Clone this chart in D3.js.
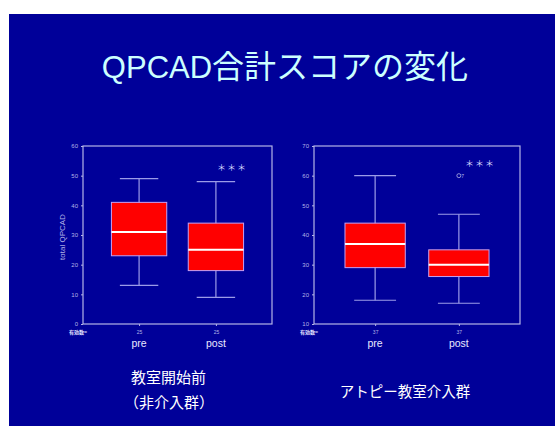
<!DOCTYPE html>
<html>
<head>
<meta charset="utf-8">
<script src="https://cdn.jsdelivr.net/npm/d3@7"></script>
<style>
  body { margin: 0; background: #fff; }
  svg { display: block; }
</style>
</head>
<body>
<div id="chart"></div>
<script>
// chart data
const groups = ["pre", "post"];
const leftStats = [
  { min: 13, q1: 23, med: 31, q3: 41, max: 49 },
  { min: 9, q1: 18, med: 25, q3: 34, max: 48 }
];
const rightStats = [
  { min: 18, q1: 29, med: 37, q3: 44, max: 60 },
  { min: 17, q1: 26, med: 30, q3: 35, max: 47 }
];
const leftN = ["25", "25"];
const rightN = ["37", "37"];
const rightOutliers = [{ group: "post", value: 60, label: "7" }];
const leftTicks = [0, 10, 20, 30, 40, 50, 60];
const rightTicks = [10, 20, 30, 40, 50, 60, 70];

const W = 555, H = 426;
const bg = "#000099";
const axisColor = "#b4b4e6";

const svg = d3.select("#chart").append("svg")
  .attr("width", W)
  .attr("height", H);

svg.append("rect").attr("width", W).attr("height", H).attr("fill", "#fff");
svg.append("rect").attr("x", 9).attr("y", 14).attr("width", W - 9).attr("height", H - 14).attr("fill", bg);

// title
const title = svg.append("text")
  .attr("x", 285).attr("y", 78)
  .attr("text-anchor", "middle")
  .attr("font-family", "'Noto Sans CJK JP', sans-serif")
  .attr("font-size", 32)
  .attr("fill", "#ccffff");
title.append("tspan").attr("font-family", "'Liberation Sans', Arial, sans-serif").attr("font-size", 31).text("QPCAD");
title.append("tspan").text("合計スコアの変化");

// draw one box plot panel
function panel(opts) {
  const g = svg.append("g");
  const y = d3.scaleLinear().domain(opts.domain).range([opts.y1, opts.y0]);
  const x = d3.scalePoint().domain(groups).range([opts.x0, opts.x1]).padding(0.73);
  const step = x.step();

  // frame
  g.append("rect")
    .attr("x", opts.x0).attr("y", opts.y0)
    .attr("width", opts.x1 - opts.x0).attr("height", opts.y1 - opts.y0)
    .attr("fill", "none").attr("stroke", axisColor).attr("stroke-width", 1.2);

  // y axis
  const yAxis = g.append("g")
    .attr("transform", `translate(${opts.x0},0)`)
    .call(d3.axisLeft(y).tickValues(opts.ticks).tickSize(2).tickPadding(3));
  yAxis.select(".domain").remove();
  yAxis.selectAll("line").attr("stroke", axisColor);
  yAxis.selectAll("text")
    .attr("fill", axisColor)
    .attr("font-family", "Arial, sans-serif")
    .attr("font-size", 6);

  // x axis
  const xAxis = g.append("g")
    .attr("transform", `translate(0,${opts.y1})`)
    .call(d3.axisBottom(x).tickSize(2).tickPadding(4).tickFormat((d, i) => opts.n[i]));
  xAxis.select(".domain").remove();
  xAxis.selectAll("line").attr("stroke", axisColor);
  xAxis.selectAll("text")
    .attr("fill", axisColor)
    .attr("font-family", "Arial, sans-serif")
    .attr("font-size", 5);

  g.append("text")
    .attr("x", opts.x0 - 14).attr("y", opts.y1 + 10)
    .attr("font-family", "'Noto Sans CJK JP', sans-serif")
    .attr("font-size", 5)
    .attr("font-weight", "bold")
    .attr("fill", "#e0e0ff")
    .text("有効数=");

  // category labels
  g.selectAll(".cat").data(groups).enter().append("text")
    .attr("x", d => x(d)).attr("y", opts.y1 + 23)
    .attr("text-anchor", "middle")
    .attr("font-family", "Arial, sans-serif")
    .attr("font-size", 10.5)
    .attr("fill", "#e8e8ff")
    .text(d => d);

  const boxW = step * 0.72, capW = step * 0.5;
  const boxes = g.selectAll(".box").data(opts.stats).enter().append("g")
    .attr("transform", (d, i) => `translate(${x(groups[i])},0)`);

  boxes.append("line")
    .attr("x1", 0).attr("x2", 0)
    .attr("y1", d => y(d.min)).attr("y2", d => y(d.max))
    .attr("stroke", "#9c9ce8").attr("stroke-width", 1.2);
  boxes.append("line")
    .attr("x1", -capW / 2).attr("x2", capW / 2)
    .attr("y1", d => y(d.max)).attr("y2", d => y(d.max))
    .attr("stroke", "#9c9ce8").attr("stroke-width", 1.2);
  boxes.append("line")
    .attr("x1", -capW / 2).attr("x2", capW / 2)
    .attr("y1", d => y(d.min)).attr("y2", d => y(d.min))
    .attr("stroke", "#9c9ce8").attr("stroke-width", 1.2);
  boxes.append("rect")
    .attr("x", -boxW / 2).attr("width", boxW)
    .attr("y", d => y(d.q3)).attr("height", d => y(d.q1) - y(d.q3))
    .attr("fill", "#ff0000").attr("stroke", "#c8a0f0").attr("stroke-width", 1);
  boxes.append("line")
    .attr("x1", -boxW / 2).attr("x2", boxW / 2)
    .attr("y1", d => y(d.med)).attr("y2", d => y(d.med))
    .attr("stroke", "#fff").attr("stroke-width", 2);

  // outliers
  const out = g.selectAll(".out").data(opts.outliers).enter().append("g")
    .attr("transform", d => `translate(${x(d.group)},${y(d.value)})`);
  out.append("circle").attr("r", 2).attr("fill", "none").attr("stroke", "#b4b4e6").attr("stroke-width", 0.8);
  out.append("text").attr("x", 2.5).attr("y", 2).attr("font-size", 5)
    .attr("font-family", "Arial, sans-serif").attr("fill", "#b4b4e6").text(d => d.label);

  // significance marks
  g.append("text")
    .attr("x", opts.x1 - 25).attr("y", opts.y0 + opts.starDy)
    .attr("text-anchor", "end")
    .attr("font-family", "'Noto Sans CJK JP', sans-serif")
    .attr("font-size", 9)
    .attr("letter-spacing", 1)
    .attr("fill", "#d8d8ff")
    .text("＊＊＊");
}

panel({ x0: 83, x1: 272, y0: 146, y1: 324, domain: [0, 60], ticks: leftTicks,
  stats: leftStats, n: leftN, outliers: [], starDy: 25 });
panel({ x0: 314, x1: 520, y0: 146, y1: 324, domain: [10, 70], ticks: rightTicks,
  stats: rightStats, n: rightN, outliers: rightOutliers, starDy: 21 });

// y axis title
svg.append("text")
  .attr("transform", "translate(65,237) rotate(-90)")
  .attr("text-anchor", "middle")
  .attr("font-family", "Arial, sans-serif")
  .attr("font-size", 8)
  .attr("fill", "#b4b4e6")
  .text("total QPCAD");

// group captions
const captionFont = "'Noto Sans CJK JP', sans-serif";
svg.append("text").attr("x", 131).attr("y", 383)
  .attr("font-family", captionFont).attr("font-size", 15).attr("fill", "#fff").text("教室開始前");
svg.append("text").attr("x", 124).attr("y", 408)
  .attr("font-family", captionFont).attr("font-size", 15).attr("fill", "#fff").text("（非介入群）");
svg.append("text").attr("x", 405).attr("y", 397).attr("text-anchor", "middle")
  .attr("font-family", captionFont).attr("font-size", 14.5).attr("fill", "#fff").text("アトピー教室介入群");
</script>
</body>
</html>
